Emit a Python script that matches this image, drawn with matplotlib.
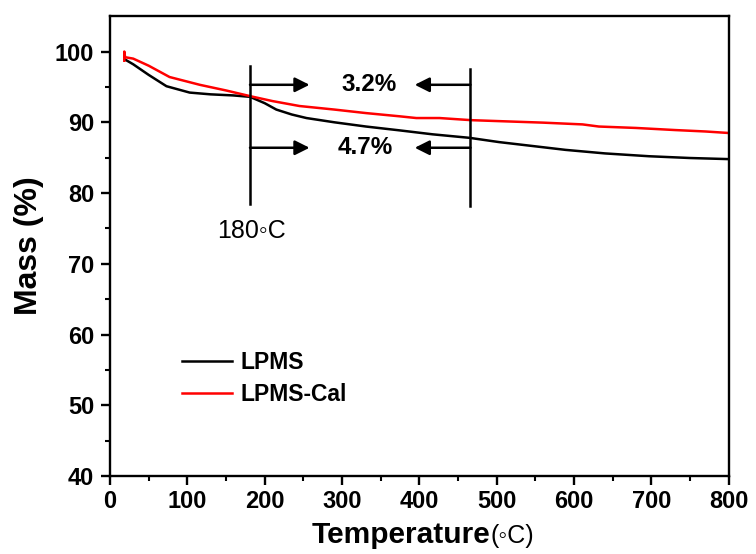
import matplotlib
matplotlib.use('Agg')
import matplotlib.pyplot as plt

plt.rcParams['font.family'] = ['Liberation Sans', 'DejaVu Sans']

# --- data ---
temp_lpms = [19, 30, 50, 73, 103, 130, 159, 181, 200, 215, 235, 254, 290, 331, 375,
             417, 465, 503, 550, 589, 640, 697, 750, 798]
mass_lpms = [98.9, 98.2, 96.7, 95.1, 94.2, 93.95, 93.8, 93.6, 92.7, 91.8, 91.1, 90.6,
             90.0, 89.4, 88.85, 88.3, 87.8, 87.2, 86.6, 86.1, 85.6, 85.2, 84.95, 84.8]

temp_cal = [18.5, 18.5, 19.5, 30, 50, 77, 116, 150, 181, 210, 245, 290, 331, 374,
            396, 426, 467, 520, 560, 611, 632, 680, 731, 770, 798]
mass_cal = [98.7, 100.0, 99.2, 99.0, 98.0, 96.4, 95.3, 94.5, 93.7, 93.0, 92.3, 91.8,
            91.3, 90.85, 90.6, 90.6, 90.3, 90.1, 89.95, 89.7, 89.4, 89.2, 88.9, 88.7, 88.5]

# marker lines for the mass-loss window
onset_t, end_t = 181, 466
upper_level, lower_level = 95.3, 86.4

fig = plt.figure(figsize=(7.56, 5.54), dpi=100)
ax = fig.add_axes([0.1455, 0.1408, 0.8185, 0.830])

ax.plot(temp_lpms, mass_lpms, color='black', lw=1.8, label='LPMS')
ax.plot(temp_cal, mass_cal, color='#ff0000', lw=1.8, label='LPMS-Cal')

ax.set_xlim(0, 800)
ax.set_ylim(40, 105)
ax.set_xticks(range(0, 801, 100))
ax.set_xticks(range(50, 800, 100), minor=True)
ax.set_yticks(range(40, 101, 10))
ax.set_yticks(range(45, 101, 10), minor=True)

for s in ax.spines.values():
    s.set_linewidth(1.7)
ax.tick_params(which='major', direction='out', length=6.5, width=1.7, labelsize=17)
ax.tick_params(axis='x', which='major', pad=3.5)
ax.tick_params(axis='y', which='major', pad=5)
ax.tick_params(which='minor', direction='out', length=3.5, width=1.5)
for lab in ax.get_xticklabels() + ax.get_yticklabels():
    lab.set_fontweight('bold')

ax.set_ylabel('Mass (%)', fontsize=23, fontweight='bold', labelpad=8)

fig.text(490 / 756, 1 - 543 / 554, 'Temperature', fontsize=21.5, fontweight='bold',
         ha='right', va='baseline')
fig.text(490 / 756, 1 - 543 / 554, '(\u25e6C)', fontsize=18, ha='left', va='baseline')

# annotation: vertical bars
ax.plot([onset_t, onset_t], [98.0, 78.4], color='black', lw=1.8)
ax.plot([end_t, end_t], [97.6, 78.1], color='black', lw=1.8)

arrow_kw = dict(arrowstyle='-|>', color='black', lw=1.8, mutation_scale=22,
                shrinkA=0, shrinkB=0)
for lev in (upper_level, lower_level):
    ax.annotate('', xy=(258, lev), xytext=(onset_t, lev), arrowprops=arrow_kw)
    ax.annotate('', xy=(394, lev), xytext=(end_t, lev), arrowprops=arrow_kw)

ax.text(335, upper_level, '3.2%', fontsize=17.5, fontweight='bold', ha='center', va='center')
ax.text(330, lower_level, '4.7%', fontsize=17.5, fontweight='bold', ha='center', va='center')
ax.text(onset_t + 2, 74.6, '180\u25e6C', fontsize=18, ha='center', va='center')

leg = ax.legend(loc='upper left', bbox_to_anchor=(0.116, 0.272), frameon=False,
                prop={'weight': 'bold', 'size': 16.5}, handlelength=2.2,
                handletextpad=0.35, labelspacing=0.4, borderpad=0, borderaxespad=0)

fig.savefig('out.png', dpi=100)
